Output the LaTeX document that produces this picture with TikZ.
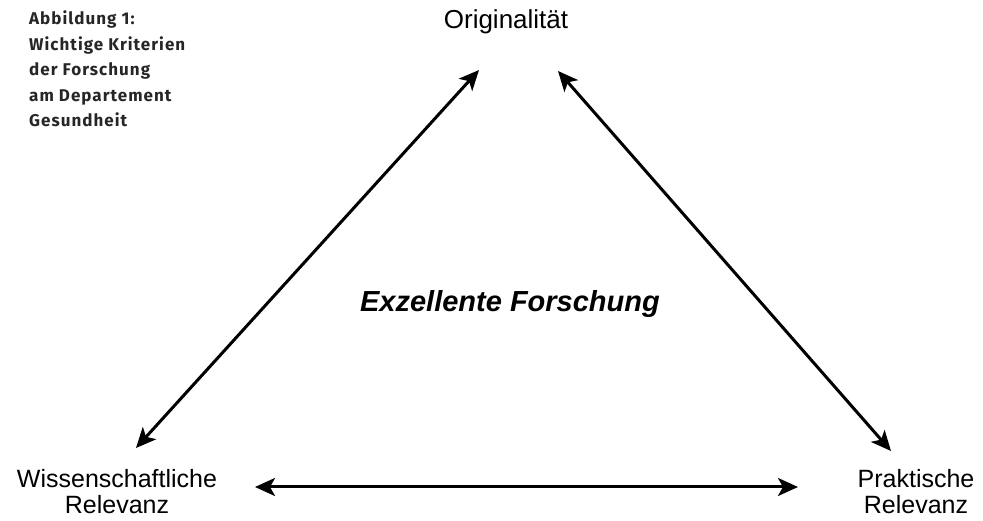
\documentclass[tikz,border=0pt]{standalone}
\usepackage{fontspec}
\setmainfont{Liberation Sans}
\newfontfamily\capfont[LetterSpace=6]{Fira Sans}
\usetikzlibrary{arrows.meta}
\begin{document}
\begin{tikzpicture}[x=1pt,y=1pt,
  lbl/.style={font=\fontsize{25}{26}\selectfont, align=center, inner sep=0pt},
  conn/.style={line width=3pt, {Stealth[length=20pt,width=18pt,inset=5pt]}-{Stealth[length=20pt,width=18pt,inset=5pt]}},
  captxt/.style={font=\capfont\bfseries\fontsize{17}{25.5}\selectfont, text=black!85, align=left, anchor=north west, inner sep=0pt}]
\useasboundingbox (0,0) rectangle (983,521);
\node[captxt] (cap) at (29,510) {Abbildung 1:\\Wichtige Kriterien\\der Forschung\\am Departement\\Gesundheit};
\node[lbl, font=\fontsize{26}{27}\selectfont] (orig) at (506,499) {Originalität};
\node[lbl] (wiss) at (117,29) {Wissenschaftliche\\Relevanz};
\node[lbl] (prak) at (916,29) {Praktische\\Relevanz};
\node[font=\fontsize{29}{31}\selectfont\bfseries\itshape, inner sep=0pt] (exz) at (510,217) {Exzellente Forschung};
\coordinate (a1) at (136,73);
\coordinate (a2) at (479,451);
\coordinate (b1) at (558,450);
\coordinate (b2) at (891,70);
\coordinate (c1) at (255,34);
\coordinate (c2) at (798,34);
\draw[conn] (a1) -- (a2);
\draw[conn] (b1) -- (b2);
\draw[conn] (c1) -- (c2);
\end{tikzpicture}
\end{document}
